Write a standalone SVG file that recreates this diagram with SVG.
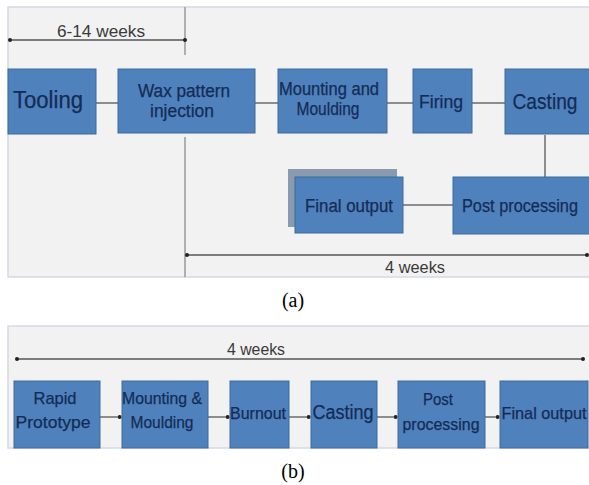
<svg xmlns="http://www.w3.org/2000/svg" width="589" height="485" viewBox="0 0 589 485">
<style>
.panel{fill:#f2f2f2;stroke:#d5d9e3;stroke-width:1.5}
.box{fill:#4f81bd;stroke:#3d6b9e;stroke-width:1}
.shadow{fill:#8a9bb0}
.t{font-family:"Liberation Sans",Arial,sans-serif;fill:#142c55;stroke:#142c55;stroke-width:0.25;text-anchor:middle}
.lbl{font-family:"Liberation Sans",Arial,sans-serif;fill:#3a3a3a;text-anchor:middle;font-size:16px}
.cap{font-family:"Liberation Serif","Times New Roman",serif;fill:#000;text-anchor:middle;font-size:20px}
.c{stroke:#6b6b6b;stroke-width:1.5;fill:none}
.dim{stroke:#555;stroke-width:1.5;fill:none}
.tick{stroke:#999;stroke-width:1.5;fill:none}
</style>
<defs>
<marker id="dot" viewBox="0 0 6 6" refX="3" refY="3" markerWidth="4" markerHeight="4" markerUnits="userSpaceOnUse"><circle cx="3" cy="3" r="3" fill="#222"/></marker>
<marker id="dotS" viewBox="0 0 6 6" refX="5" refY="3" markerWidth="4" markerHeight="4" markerUnits="userSpaceOnUse"><circle cx="3" cy="3" r="3" fill="#222"/></marker>
</defs>
<rect width="589" height="485" fill="#ffffff"/>
<!-- panel a -->
<rect class="panel" x="8" y="7" width="590" height="270"/>
<g id="dims-a">
<line class="tick" x1="185" y1="7" x2="185" y2="55"/>
<line class="dim" x1="10" y1="40" x2="185" y2="40" marker-start="url(#dot)" marker-end="url(#dot)"/>
<text class="lbl" x="101" y="37" textLength="88" lengthAdjust="spacingAndGlyphs">6-14 weeks</text>
<line class="tick" x1="185" y1="137" x2="185" y2="277"/>
<line class="dim" x1="187" y1="255" x2="587" y2="255" marker-start="url(#dot)" marker-end="url(#dot)"/>
<text class="lbl" x="415" y="273" textLength="60" lengthAdjust="spacingAndGlyphs">4 weeks</text>
</g>
<g id="connectors-a">
<line class="c" x1="96" y1="103" x2="118" y2="103"/>
<line class="c" x1="255" y1="103" x2="278" y2="103"/>
<line class="c" x1="387" y1="103" x2="413" y2="103"/>
<line class="c" x1="472" y1="103" x2="505" y2="103"/>
<line class="c" x1="545" y1="135" x2="545" y2="177"/>
<line class="c" x1="453" y1="205" x2="403" y2="205"/>
</g>
<g id="tooling"><rect class="box" x="8" y="69" width="88" height="65"/><text class="t" x="48" y="108" font-size="23" textLength="70" lengthAdjust="spacingAndGlyphs">Tooling</text></g>
<g id="wax"><rect class="box" x="118" y="69" width="137" height="64"/><text class="t" x="184" y="97" font-size="18" textLength="92" lengthAdjust="spacingAndGlyphs">Wax pattern</text><text class="t" x="182" y="117" font-size="18" textLength="64" lengthAdjust="spacingAndGlyphs">injection</text></g>
<g id="mounting"><rect class="box" x="278" y="69" width="109" height="64"/><text class="t" x="329" y="95" font-size="18" textLength="100" lengthAdjust="spacingAndGlyphs">Mounting and</text><text class="t" x="328" y="115" font-size="18" textLength="63" lengthAdjust="spacingAndGlyphs">Moulding</text></g>
<g id="firing"><rect class="box" x="413" y="69" width="59" height="64"/><text class="t" x="441" y="108" font-size="18" textLength="44" lengthAdjust="spacingAndGlyphs">Firing</text></g>
<g id="casting"><rect class="box" x="505" y="69" width="90" height="65"/><text class="t" x="545" y="109" font-size="22" textLength="65" lengthAdjust="spacingAndGlyphs">Casting</text></g>
<g id="final-a"><rect class="shadow" x="288" y="169" width="109" height="58"/><rect class="box" x="295" y="177" width="108" height="56"/><text class="t" x="349" y="212" font-size="18" textLength="88" lengthAdjust="spacingAndGlyphs">Final output</text></g>
<g id="post-a"><rect class="box" x="453" y="177" width="140" height="57"/><text class="t" x="520" y="212" font-size="18" textLength="116" lengthAdjust="spacingAndGlyphs">Post processing</text></g>
<text class="cap" x="293" y="307">(a)</text>
<!-- panel b -->
<rect class="panel" x="8" y="326" width="590" height="122" stroke="none"/>
<g id="dims-b">
<line class="dim" x1="17" y1="359" x2="583" y2="359" marker-start="url(#dot)" marker-end="url(#dot)"/>
<text class="lbl" x="256" y="355" textLength="58" lengthAdjust="spacingAndGlyphs">4 weeks</text>
</g>
<g id="connectors-b">
<line class="c" x1="100" y1="417" x2="121" y2="417" marker-end="url(#dotS)"/>
<line class="c" x1="208" y1="417" x2="229" y2="417" marker-end="url(#dotS)"/>
<line class="c" x1="289" y1="417" x2="310" y2="417" marker-end="url(#dotS)"/>
<line class="c" x1="377" y1="417" x2="397" y2="417" marker-end="url(#dotS)"/>
<line class="c" x1="485" y1="417" x2="499" y2="417" marker-end="url(#dotS)"/>
</g>
<g id="rapid"><rect class="box" x="14" y="381" width="86" height="67"/><text class="t" x="55" y="404" font-size="17" textLength="43" lengthAdjust="spacingAndGlyphs">Rapid</text><text class="t" x="53" y="428" font-size="17" textLength="75" lengthAdjust="spacingAndGlyphs">Prototype</text></g>
<g id="mounting-b"><rect class="box" x="122" y="381" width="86" height="67"/><text class="t" x="162" y="404" font-size="17" textLength="80" lengthAdjust="spacingAndGlyphs">Mounting &amp;</text><text class="t" x="162" y="428" font-size="17" textLength="63" lengthAdjust="spacingAndGlyphs">Moulding</text></g>
<g id="burnout"><rect class="box" x="230" y="381" width="59" height="67"/><text class="t" x="258" y="419" font-size="17" textLength="56" lengthAdjust="spacingAndGlyphs">Burnout</text></g>
<g id="casting-b"><rect class="box" x="311" y="381" width="66" height="67"/><text class="t" x="343" y="419" font-size="20" textLength="61" lengthAdjust="spacingAndGlyphs">Casting</text></g>
<g id="post-b"><rect class="box" x="398" y="381" width="87" height="67"/><text class="t" x="438" y="405" font-size="17" textLength="30" lengthAdjust="spacingAndGlyphs">Post</text><text class="t" x="441" y="430" font-size="17" textLength="77" lengthAdjust="spacingAndGlyphs">processing</text></g>
<g id="final-b"><rect class="box" x="500" y="381" width="88" height="67"/><text class="t" x="544" y="419" font-size="17" textLength="85" lengthAdjust="spacingAndGlyphs">Final output</text></g>
<text class="cap" x="293" y="478">(b)</text>
</svg>
